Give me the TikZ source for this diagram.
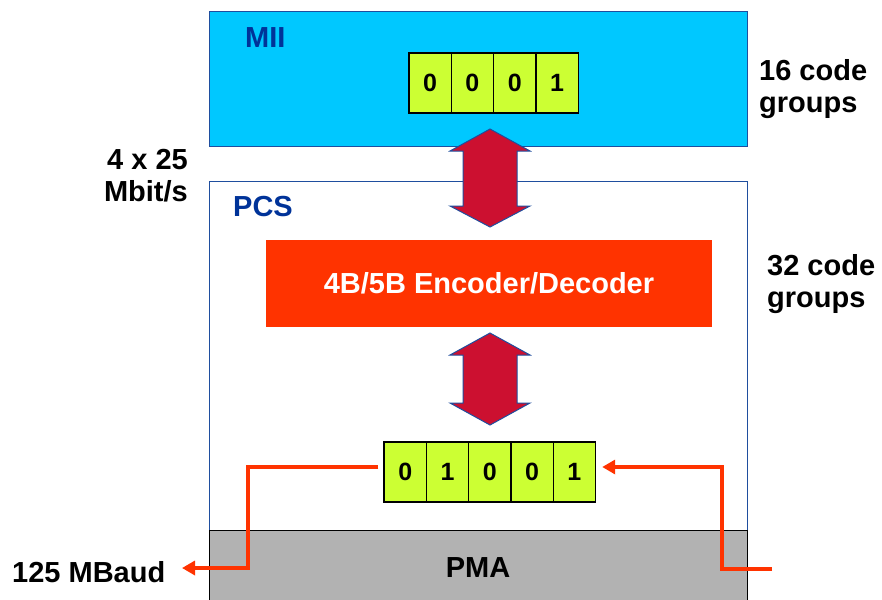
\documentclass[tikz,border=0pt]{standalone}
\usepackage{fontspec}
\setmainfont{Liberation Sans}
\usetikzlibrary{arrows.meta}
\definecolor{miicyan}{HTML}{00C8FF}
\definecolor{boxblue}{HTML}{1F4E9E}
\definecolor{lblblue}{HTML}{003399}
\definecolor{encred}{HTML}{FF3300}
\definecolor{cellgreen}{HTML}{CCFF33}
\definecolor{arrred}{HTML}{CC1030}
\definecolor{pmagray}{HTML}{B2B2B2}
\begin{document}
\begin{tikzpicture}[x=1pt,y=-1pt,
  bigfont/.style={font=\fontsize{29}{32}\selectfont\bfseries},
  cell/.style={draw=black,line width=1.3pt,fill=cellgreen,minimum width=42.3pt,minimum height=60pt,inner sep=0pt,font=\fontsize{25}{28}\selectfont\bfseries},
  layerbox/.style={inner sep=0pt,anchor=north west,minimum width=538pt},
  dblarr/.style={fill=arrred,draw=boxblue,line width=1pt,line join=miter},
  sig/.style={draw=encred,line width=3.6pt,line join=miter},
  sigarr/.style={sig,-{Triangle[length=13pt,width=14pt]}}
]
\useasboundingbox (0,0) rectangle (882,599);
% layer boxes
\node[layerbox,draw=boxblue,line width=0.8pt,fill=miicyan,minimum height=135pt] (mii) at (209,11) {};
\node[layerbox,draw=boxblue,line width=0.8pt,fill=white,minimum height=349pt] (pcs) at (209,181) {};
\node[layerbox,draw=black,line width=1pt,fill=pmagray,minimum height=75pt] (pma) at (209,530) {};
% labels
\node[bigfont,text=lblblue,anchor=base west,inner sep=0pt] (miil) at (245,48) {MII};
\node[bigfont,text=lblblue,anchor=base west,inner sep=0pt] (pcsl) at (233,216) {PCS};
\node[bigfont,anchor=base,inner sep=0pt] (pmal) at (478,577) {PMA};
\node[bigfont,anchor=west,align=left,inner sep=0pt] (g16) at (759,89) {16 code\\groups};
\node[bigfont,anchor=west,align=left,inner sep=0pt] (g32) at (767,284) {32 code\\groups};
\node[bigfont,anchor=east,align=right,inner sep=0pt] (rate) at (188,176) {4 x 25\\Mbit/s};
\node[bigfont,anchor=base west,inner sep=0pt] (baud) at (12,582) {125 MBaud};
% encoder
\node[fill=encred,minimum width=446pt,minimum height=87pt,inner sep=0pt,bigfont,text=white] (enc) at (489,283.5) {4B/5B Encoder/Decoder};
% top code group
\node[cell] (t1) at (430.1,83) {0};
\node[cell] (t2) at (472.4,83) {0};
\node[cell] (t3) at (514.7,83) {0};
\node[cell] (t4) at (557.0,83) {1};
% bottom code group
\node[cell] (b1) at (405.2,472) {0};
\node[cell] (b2) at (447.5,472) {1};
\node[cell] (b3) at (489.8,472) {0};
\node[cell] (b4) at (532.1,472) {0};
\node[cell] (b5) at (574.4,472) {1};
% double arrows
\draw[dblarr] (490,129) -- (530,151) -- (517,151) -- (517,206) -- (530,206) -- (490,227)
  -- (450,206) -- (463,206) -- (463,151) -- (450,151) -- cycle;
\draw[dblarr] (490,333) -- (530,355) -- (517,355) -- (517,403) -- (530,403) -- (490,425)
  -- (450,403) -- (463,403) -- (463,355) -- (450,355) -- cycle;
% signal lines
\coordinate (lstart) at ([xshift=-5pt,yshift=5pt]b1.west);
\coordinate (lend) at (182,568);
\draw[sigarr] (lstart) -- (248,467) -- (248,568) -- (lend);
\coordinate (rstart) at (772,569);
\draw[sigarr] (rstart) -- (722,569) -- (722,467) -- ([xshift=6pt,yshift=5pt]b5.east);
\end{tikzpicture}
\end{document}
